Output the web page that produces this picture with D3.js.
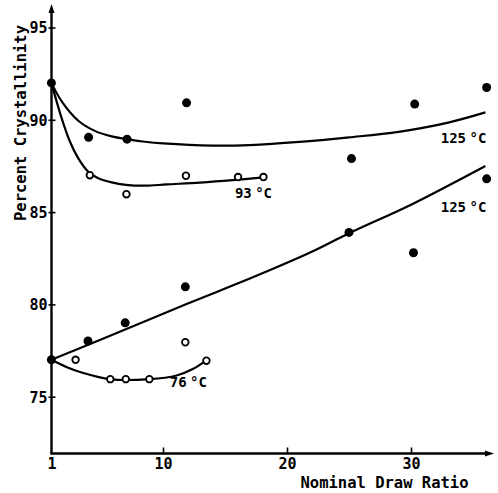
<!DOCTYPE html>
<html>
<head>
<meta charset="utf-8">
<script src="https://cdn.jsdelivr.net/npm/d3@7"></script>
<style>
    html, body { margin: 0; padding: 0; background: #fff; }
    svg text { font-family: 'DejaVu Sans Mono', monospace; font-weight: bold; fill: #000; }
</style>
</head>
<body>
<div id="chart"></div>
<script>
// Measured points (nominal draw ratio, percent crystallinity)
var filledUpperX = [1, 4, 7.1, 11.9, 25.2, 30.3, 36.1];
var filledUpperY = [92, 89.05, 88.95, 90.92, 87.9, 90.85, 91.75];
var filledLowerX = [1, 3.95, 6.95, 11.8, 25, 30.2, 36.1];
var filledLowerY = [77, 78.02, 79, 80.95, 83.9, 82.8, 86.8];
var open93X = [4.1, 7.05, 11.85, 16.05, 18.1];
var open93Y = [87, 85.97, 86.97, 86.9, 86.9];
var open76X = [2.95, 5.75, 7, 8.9, 11.8, 13.5];
var open76Y = [77, 75.95, 75.95, 75.95, 77.95, 76.95];

// Hand drawn fitted curves
var curve125TopX = [1, 1.83, 3.17, 4.5, 5.86, 7.2, 8.55, 10, 14, 17, 21, 25, 29, 33, 36];
var curve125TopY = [92, 91.0, 89.95, 89.4, 89.1, 88.94, 88.81, 88.72, 88.6, 88.63, 88.8, 89.05, 89.35, 89.85, 90.4];
var curve93X = [1, 1.83, 2.5, 3.17, 3.98, 4.78, 5.86, 7.2, 8.55, 10.3, 13, 15.6, 18.1];
var curve93Y = [92, 90.08, 88.81, 87.91, 87.18, 86.83, 86.61, 86.46, 86.43, 86.5, 86.6, 86.73, 86.88];
var curve125LowX = [1, 5, 12, 17, 22, 25, 30, 36];
var curve125LowY = [77, 78.1, 80.05, 81.4, 82.85, 83.85, 85.4, 87.5];
var curve76X = [1, 2.25, 3.5, 5.7, 8.9, 11.1, 12.4, 13.5];
var curve76Y = [77, 76.6, 76.3, 75.95, 75.95, 76.15, 76.5, 76.97];

// Axis ticks and labels
var xTicks = [1, 10, 20, 30];
var yTicks = [75, 80, 85, 90, 95];
var curveLabels = [
    { text: '125 °C', x: 32.4, y: 88.74 },
    { text: '125 °C', x: 32.4, y: 85.03 },
    { text: '93 °C', x: 15.8, y: 85.76 },
    { text: '76 °C', x: 10.55, y: 75.52 }
];
var xTitle = 'Nominal Draw Ratio';
var yTitle = 'Percent Crystallinity';

var width = 498, height = 493;
var axisX = 51.5, axisY = 453.5;

var svg = d3.select('#chart')
    .append('svg')
    .attr('width', width)
    .attr('height', height);

// Scales
var x = d3.scaleLinear().domain([1, 30]).range([51.4, 411]);
var y = d3.scaleLinear().domain([75, 95]).range([396.7, 27.5]);

function zip(xs, ys) {
    return xs.map(function(d, i) { return { x: d, y: ys[i] }; });
}

// X axis, ticks pointing up into the plot
var xAxis = svg.append('g')
    .attr('transform', 'translate(0,' + axisY + ')')
    .call(d3.axisBottom(x).tickValues(xTicks).tickSize(-6).tickPadding(5).tickFormat(d3.format('d')));
xAxis.select('.domain').remove();
xAxis.selectAll('.tick line').style('stroke', '#000').style('stroke-width', '1.6px');
xAxis.selectAll('.tick').filter(function(d) { return d === 1; }).select('line').remove();
xAxis.selectAll('.tick text').style('font-size', '15px');

// Y axis, ticks crossing the axis line
var yAxis = svg.append('g')
    .attr('transform', 'translate(' + axisX + ',0)')
    .call(d3.axisLeft(y).tickValues(yTicks).tickSize(3).tickPadding(1));
yAxis.select('.domain').remove();
yAxis.selectAll('.tick line').attr('x1', 4).style('stroke', '#000').style('stroke-width', '1.6px');
yAxis.selectAll('.tick text').attr('dy', '0.36em').style('font-size', '15px');

// Axis lines with arrow heads
svg.append('line')
    .attr('x1', axisX).attr('y1', axisY)
    .attr('x2', axisX).attr('y2', 10)
    .style('stroke', '#000').style('stroke-width', '2.4px');
svg.append('line')
    .attr('x1', axisX - 1.2).attr('y1', axisY)
    .attr('x2', 488).attr('y2', axisY)
    .style('stroke', '#000').style('stroke-width', '2.4px');
svg.append('path')
    .attr('d', 'M' + axisX + ',4 L' + (axisX - 3) + ',13 L' + (axisX + 3) + ',13 Z')
    .style('fill', '#000');
svg.append('path')
    .attr('d', 'M494,' + axisY + ' L485,' + (axisY - 3) + ' L485,' + (axisY + 3) + ' Z')
    .style('fill', '#000');

// Axis titles
svg.append('text')
    .attr('x', 384.5)
    .attr('y', 487.5)
    .attr('text-anchor', 'middle')
    .style('font-size', '15.5px')
    .text(xTitle);
svg.append('text')
    .attr('transform', 'translate(25.5,123) rotate(-90)')
    .attr('text-anchor', 'middle')
    .style('font-size', '15.5px')
    .text(yTitle);

// Fitted curves
var line = d3.line()
    .x(function(d) { return x(d.x); })
    .y(function(d) { return y(d.y); })
    .curve(d3.curveCatmullRom.alpha(0.5));

[[curve125TopX, curve125TopY], [curve93X, curve93Y], [curve125LowX, curve125LowY], [curve76X, curve76Y]]
    .forEach(function(c) {
        svg.append('path')
            .datum(zip(c[0], c[1]))
            .attr('d', line)
            .style('fill', 'none')
            .style('stroke', '#000')
            .style('stroke-width', '2.2px');
    });

// Open circles
[[open93X, open93Y], [open76X, open76Y]].forEach(function(s) {
    svg.append('g').selectAll('circle')
        .data(zip(s[0], s[1]))
        .enter()
        .append('circle')
            .attr('cx', function(d) { return x(d.x); })
            .attr('cy', function(d) { return y(d.y); })
            .attr('r', 3.3)
            .style('fill', '#fff')
            .style('stroke', '#000')
            .style('stroke-width', '1.8px');
});

// Filled circles
[[filledUpperX, filledUpperY], [filledLowerX, filledLowerY]].forEach(function(s) {
    svg.append('g').selectAll('circle')
        .data(zip(s[0], s[1]))
        .enter()
        .append('circle')
            .attr('cx', function(d) { return x(d.x); })
            .attr('cy', function(d) { return y(d.y); })
            .attr('r', 4.5)
            .style('fill', '#000');
});

// Curve temperature labels
svg.append('g').selectAll('text')
    .data(curveLabels)
    .enter()
    .append('text')
        .attr('x', function(d) { return x(d.x); })
        .attr('y', function(d) { return y(d.y); })
        .style('font-size', '14px')
        .style('word-spacing', '-5px')
        .text(function(d) { return d.text; });
</script>
</body>
</html>
